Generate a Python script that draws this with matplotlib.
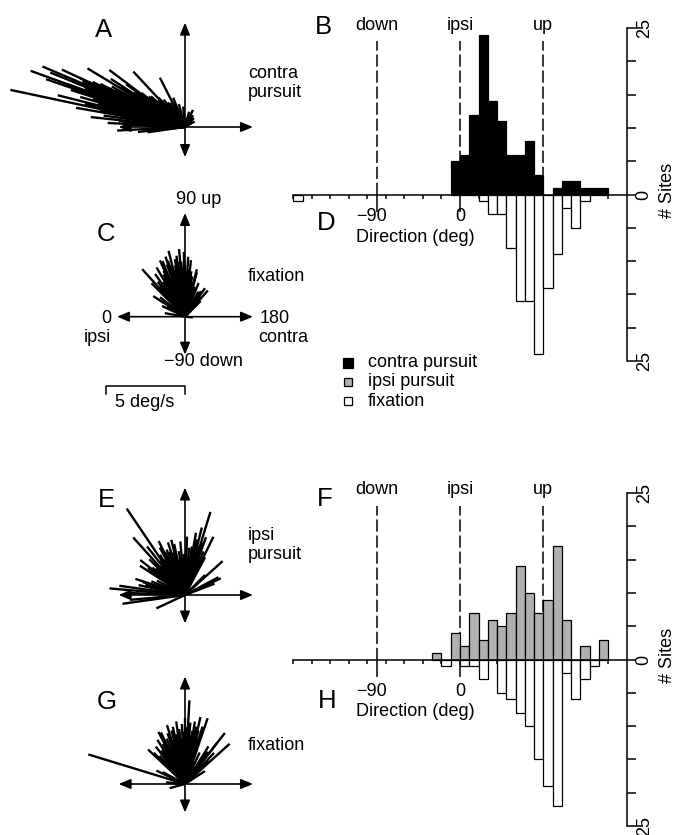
import matplotlib.pyplot as plt
from matplotlib.patches import Rectangle
import numpy as np

plt.rcParams['font.family'] = ['Liberation Sans', 'DejaVu Sans']

W, H = 678, 835          # figure size in pixels
PX = 15.8                # pixels per deg/s in the vector plots
OX = 185                 # x of the vector-plot origins (pixels)
FS = 13

# --- histogram counts, 10 deg bins keyed by left edge -----------------
contra_edges = [-10, 0, 10, 20, 30, 40, 50, 60, 70, 80, 100, 110, 120, 130, 140, 150]
contra_counts = [5, 6, 12, 24, 14, 11, 6, 6, 8, 3, 1, 2, 2, 1, 1, 1]
fix1_edges = [-180, 20, 30, 40, 50, 60, 70, 80, 90, 100, 110, 120, 130]
fix1_counts = [1, 1, 3, 3, 8, 16, 16, 24, 14, 9, 2, 5, 1]
ipsi_edges = [-30, -10, 0, 10, 20, 30, 40, 50, 60, 70, 80, 90, 100, 110, 130, 150]
ipsi_counts = [1, 4, 2, 7, 3, 6, 5, 7, 14, 10, 7, 9, 17, 6, 2, 3]
fix2_edges = [-20, 0, 10, 20, 40, 50, 60, 70, 80, 90, 100, 110, 120, 130, 140]
fix2_counts = [1, 1, 1, 3, 5, 6, 8, 10, 15, 19, 22, 2, 6, 3, 1]

# --- eye velocity vectors: direction (deg, 0 = ipsi, 90 = up) and speed (deg/s)
contra_dir = [12, 20, 22, 19, 31, 37, 47, 63, 14, 10, 6, 3, 20, 24, 18, 68,
              25, 26, 27, 23, 21, 28, 29, 33, 35, 16, 15, 22, 24, 26, 30, 34,
              40, 44, 52, 58, 8, 5, 2, -3, -6, -8, 75, 85, 105, 115, 125, 135, 150,
              17, 18, 19, 21, 22, 23, 24, 25, 25, 26, 27, 28, 29, 30, 31, 32, 33, 36,
              38, 42, 13, 11, 9, 7, 4, 1, -2, 48, 55, 65]
contra_speed = [11.3, 10.4, 9.2, 9.3, 7.2, 6.0, 4.8, 3.5, 8.3, 7.0, 6.0, 4.9, 8.0, 7.1, 7.6, 2.0,
                8.6, 6.5, 5.4, 9.8, 6.8, 5.0, 4.4, 5.6, 3.9, 6.9, 5.7, 4.6, 3.8, 3.2, 2.9, 2.6,
                3.0, 2.4, 2.2, 1.8, 5.2, 4.2, 3.4, 4.3, 3.0, 2.4, 1.5, 1.3, 1.0, 1.2, 0.9, 0.8, 0.7,
                6.1, 4.9, 3.6, 5.9, 7.7, 4.1, 6.3, 3.3, 7.4, 4.5, 6.0, 3.6, 5.3, 4.1, 2.7, 4.8, 3.4, 4.6,
                3.5, 2.9, 6.5, 5.5, 4.0, 3.1, 2.6, 2.3, 2.1, 2.5, 1.9, 1.6]

fix1_dir = [55, 60, 62, 65, 68, 70, 72, 74, 76, 77, 78, 80, 82, 84, 85, 86, 87, 88, 89, 90,
            92, 94, 96, 97, 98, 100, 102, 104, 105, 108, 112, 118, 122, 125, 128, 131, 135,
            45, 48, 51, 38, 33, 29, 25, 10, -175, 66, 73, 83, 93,
            58, 63, 67, 71, 75, 79, 81, 83, 86, 88, 91, 95, 99, 103, 107, 52, 57]
fix1_speed = [3.3, 3.6, 2.8, 3.2, 3.8, 2.6, 4.0, 3.4, 4.3, 3.0, 2.5, 3.7, 3.9, 2.9, 4.3, 3.5, 2.7, 3.1, 4.1, 3.3,
              2.8, 3.0, 3.6, 2.4, 2.9, 2.6, 2.2, 3.1, 2.9, 2.0, 2.3, 1.8, 1.9, 2.2, 1.6, 2.2, 1.4,
              3.0, 4.05, 2.5, 2.0, 2.4, 1.3, 1.6, 1.3, 0.5, 3.9, 3.7, 3.5, 3.8,
              2.6, 3.0, 2.4, 3.5, 2.9, 3.3, 2.2, 2.7, 3.0, 2.3, 2.6, 2.1, 2.5, 2.0, 1.9, 2.8, 2.0]

ipsi_dir = [56, 48, 107, 116, 5, 138, 155, -25, 76, 98, 17,
            -5, -8, 2, 8, 12, 15, 18, 22, 27, 33, 36, 38, 42, 45, 52, 55, 58, 62, 64, 66,
            68, 70, 72, 74, 78, 82, 85, 88, 92, 95, 100, 102, 104, 105, 108, 110, 113, 118,
            135, 152, 159,
            35, 40, 50, 60, 63, 65, 67, 71, 75, 80, 90, 101, 103, 106, 109, 114]
ipsi_speed = [6.6, 4.9, 5.5, 4.1, 4.8, 3.2, 2.5, 2.0, 3.6, 3.1, 2.8,
              3.5, 4.0, 3.8, 4.2, 3.0, 2.6, 3.3, 2.3, 2.0, 3.4, 2.9, 3.6, 2.5, 3.2, 3.9, 2.7, 3.0, 3.4, 3.8, 2.6,
              3.1, 2.9, 3.5, 2.4, 3.3, 2.8, 3.4, 2.6, 3.7, 3.0, 4.0, 3.6, 4.4, 3.2, 3.5, 3.9, 3.0, 2.7,
              1.8, 2.4, 2.0,
              2.2, 2.7, 2.4, 2.6, 2.1, 3.0, 2.3, 2.5, 2.8, 2.2, 2.6, 2.9, 2.4, 3.1, 2.5, 2.2]

fix2_dir = [17, 93, 109, 103, 63, 138, 128, 43, 76, 147,
            -15, 5, 25, 28, 45, 48, 52, 55, 58, 61, 65, 68, 71, 73, 75, 78, 80, 82, 84, 86,
            87, 88, 90, 91, 92, 94, 95, 96, 98, 99, 100, 101, 102, 104, 105, 106, 107, 108,
            115, 122, 125, 128, 133, 136,
            47, 57, 66, 72, 79, 83, 85, 89, 93, 97, 100, 103, 106, 109, 124]
fix2_speed = [6.4, 5.3, 4.4, 4.35, 3.7, 3.8, 4.1, 3.2, 3.5, 1.5,
              1.0, 1.2, 2.0, 1.6, 2.8, 2.4, 3.0, 2.6, 3.3, 2.9, 3.6, 3.1, 3.4, 3.9, 2.8, 3.7, 3.2, 4.0, 3.5, 2.9,
              3.8, 3.3, 4.2, 3.0, 3.6, 2.7, 3.9, 3.1, 3.4, 4.0, 2.8, 3.7, 3.2, 3.5, 2.6, 3.0, 3.8, 2.9,
              2.2, 2.8, 2.5, 3.3, 2.7, 2.1,
              2.1, 2.4, 2.2, 2.6, 2.3, 2.7, 2.0, 2.5, 2.2, 2.8, 2.4, 2.1, 2.6, 2.3, 2.0]

fig = plt.figure(figsize=(W / 100, H / 100), dpi=100)


def fx(x):
    return x / W


def fy(y):
    return 1 - y / H


def label(x, y, s, size=FS, **kw):
    kw.setdefault('ha', 'center')
    kw.setdefault('va', 'center')
    fig.text(fx(x), fy(y), s, fontsize=size, **kw)


def vector_panel(top, bottom, oy, dirs, speeds, tips):
    ax = fig.add_axes([0, fy(bottom), 280 / W, (bottom - top) / H])
    ax.set_xlim(-OX / PX, (280 - OX) / PX)
    ax.set_ylim(-(bottom - oy) / PX, (oy - top) / PX)
    ax.axis('off')
    up, down, left, right = tips
    for tx, ty in [(0, up), (0, -down), (-left, 0), (right, 0)]:
        ax.annotate('', xy=(tx, ty), xytext=(0, 0),
                    arrowprops=dict(arrowstyle='-|>,head_length=0.6,head_width=0.25',
                                    color='black', lw=1.2, mutation_scale=12,
                                    shrinkA=0, shrinkB=0))
    th = np.radians(dirs)
    sp = np.array(speeds)
    for t, s in zip(th, sp):
        ax.plot([0, -s * np.cos(t)], [0, s * np.sin(t)], color='black', lw=1.7,
                solid_capstyle='butt', clip_on=False)
    return ax


def hist_panel(top, bottom, up_edges, up_counts, up_color, down_edges, down_counts):
    ax = fig.add_axes([fx(293.3), fy(bottom), 333.4 / W, (bottom - top) / H])
    ax.set_xlim(-180, 180)
    ax.set_ylim(-25, 25)
    for sp in ['left', 'top']:
        ax.spines[sp].set_visible(False)
    ax.spines['bottom'].set_position(('data', 0))
    for sp in ['bottom', 'right']:
        ax.spines[sp].set_linewidth(1.1)

    # reference directions
    for d in [-90, 0, 90]:
        ax.plot([d, d], [0, 23], color='black', lw=1.1, dashes=(8, 2.5), zorder=0.5)

    ax.bar(up_edges, up_counts, width=10, align='edge', color=up_color,
           edgecolor='black', lw=0.9, zorder=2, clip_on=False)
    ax.bar(down_edges, -np.array(down_counts), width=10, align='edge', color='white',
           edgecolor='black', lw=0.9, zorder=2, clip_on=False)

    ax.set_xticks([-90, 0])
    ax.set_xticklabels([])
    ax.set_xticks(np.arange(-180, 180, 20), minor=True)
    ax.tick_params(axis='x', which='major', direction='out', length=12, width=1.1)
    ax.tick_params(axis='x', which='minor', direction='out', length=3, width=1.1)

    ax.yaxis.tick_right()
    ax.set_yticks(np.arange(-25, 26, 5))
    ax.set_yticklabels(['25'] + [''] * 4 + ['0'] + [''] * 4 + ['25'],
                       rotation=90, va='center', fontsize=FS)
    ax.tick_params(axis='y', direction='out', length=6.5, width=1.1, pad=0)
    return ax


# --- histograms -----------------------------------------------------------
hist_panel(28, 361, contra_edges, contra_counts, 'black', fix1_edges, fix1_counts)
hist_panel(493, 826, ipsi_edges, ipsi_counts, '#b0b0b0', fix2_edges, fix2_counts)

for y_lab, y_tick, y_dir, y_axis in [(25, 216.7, 237, 190), (490, 691, 711, 655)]:
    label(376.7, y_lab, 'down')
    label(460, y_lab, 'ipsi')
    label(543.3, y_lab, 'up')
    label(387, y_tick, '\u221290', ha='right')
    label(460, y_tick, '0')
    label(356, y_dir, 'Direction (deg)', ha='left')
    label(668, y_axis, '# Sites', rotation=90)

# --- vector plots ---------------------------------------------------------
vector_panel(0, 175, 127, contra_dir, contra_speed, (6.6, 1.9, 4.2, 4.3))
axc = vector_panel(185, 420, 316.7, fix1_dir, fix1_speed, (6.56, 2.4, 4.3, 4.3))
vector_panel(460, 640, 595, ipsi_dir, ipsi_speed, (6.8, 1.8, 4.2, 4.3))
vector_panel(645, 835, 784, fix2_dir, fix2_speed, (6.8, 1.8, 4.2, 4.3))

# 5 deg/s scale bar under panel C
yb = -(386 - 316.7) / PX
axc.plot([-5, -5, 0, 0], [yb - 0.5, yb, yb, yb - 0.5], color='black', lw=1.1, clip_on=False)
label(145, 402, '5 deg/s')

label(248, 83, 'contra\npursuit', ha='left', linespacing=1.15)
label(199, 200, '90 up')
label(248, 276, 'fixation', ha='left')
label(106.5, 318, '0')
label(97, 337, 'ipsi')
label(260, 318, '180', ha='left')
label(258, 337, 'contra', ha='left')
label(203, 362, '\u221290 down')
label(248, 545, 'ipsi\npursuit', ha='left', linespacing=1.15)
label(248, 746, 'fixation', ha='left')

# panel letters
for x, y, s in [(104, 30, 'A'), (323, 27, 'B'), (106, 234, 'C'), (326, 223, 'D'),
                (106, 500, 'E'), (325, 499, 'F'), (107, 702, 'G'), (327, 701, 'H')]:
    label(x, y, s, size=18.5)

# legend
legend_rows = [('contra pursuit', 'black', 363, 10),
               ('ipsi pursuit', '#b0b0b0', 382, 8),
               ('fixation', 'white', 401, 8)]
for text, color, y, size in legend_rows:
    fig.add_artist(Rectangle((fx(348 - size / 2), fy(y + size / 2)), size / W, size / H,
                             transform=fig.transFigure, facecolor=color,
                             edgecolor='black', lw=0.9))
    label(368, y, text, ha='left')

fig.savefig('out.png', dpi=100)
